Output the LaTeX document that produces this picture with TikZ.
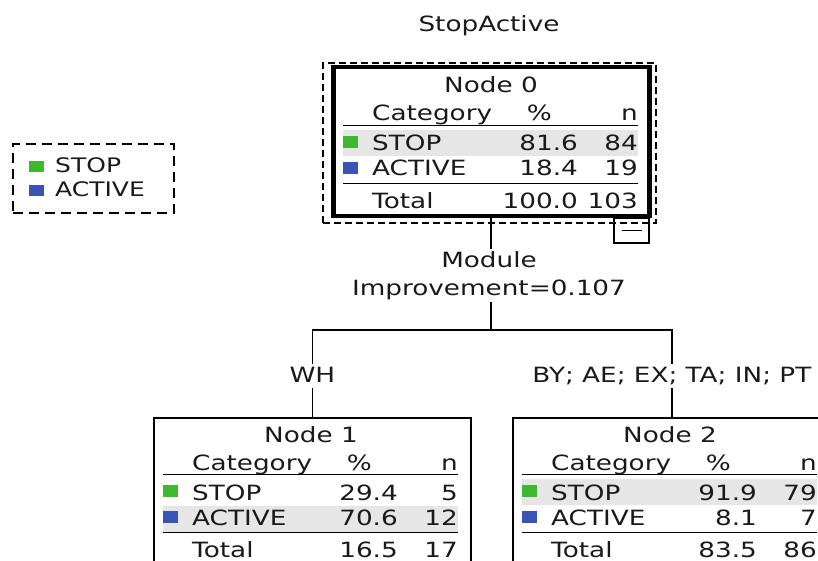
\documentclass[tikz,border=0pt]{standalone}
\usepackage{fontspec}
\setmainfont{DejaVu Sans}[FakeStretch=1.25]
\definecolor{stopgreen}{RGB}{62,184,48}
\definecolor{activeblue}{RGB}{58,84,182}
\definecolor{rowgray}{RGB}{230,230,230}
\definecolor{ink}{RGB}{25,25,25}

% Body of one classification-tree node: title, header, two category rows, total.
% #1 name prefix, #2/#3 STOP % and n, #4/#5 ACTIVE % and n, #6/#7 total % and n,
% #8 node title, #9 top of the highlighted row
\newcommand\cattable[9]{%
  \fill[rowgray] (10,#9) rectangle (305,{#9+26});
  \node[ttl] (#1-title) at (158,25) {#8};
  \node[txt] (#1-cat)  at (39,53)  {Category};
  \node[num] (#1-pc)   at (219,53) {\%};
  \node[num] (#1-n)    at (305,53) {n};
  \draw[rulel] (10,57.5) -- (305,57.5);
  \fill[stopgreen] (10,68) rectangle (25,80);
  \node[txt] (#1-stop)  at (39,83)  {STOP};
  \node[num] (#1-stopp) at (245,83) {#2};
  \node[num] (#1-stopn) at (305,83) {#3};
  \fill[activeblue] (10,94) rectangle (25,106);
  \node[txt] (#1-act)  at (39,108)  {ACTIVE};
  \node[num] (#1-actp) at (245,108) {#4};
  \node[num] (#1-actn) at (305,108) {#5};
  \draw[rulel] (10,115.5) -- (305,115.5);
  \node[txt] (#1-tot)  at (39,140)  {Total};
  \node[num] (#1-totp) at (245,140) {#6};
  \node[num] (#1-totn) at (305,140) {#7};
}

\begin{document}
\begin{tikzpicture}[x=1pt, y=-1pt,
  font=\fontsize{21}{28}\selectfont, text=ink,
  txt/.style={inner sep=0pt, anchor=base west},
  num/.style={inner sep=0pt, anchor=base east},
  ttl/.style={inner sep=0pt, anchor=base},
  rulel/.style={line width=1.7pt},
  conn/.style={line width=1.7pt},
  thinbox/.style={draw, line width=1.7pt, inner sep=0pt, anchor=north west},
  thickbox/.style={draw, line width=4.5pt, inner sep=0pt, anchor=north west},
  selbox/.style={draw, line width=1.8pt, dash pattern=on 7pt off 4pt, inner sep=0pt, anchor=north west},
  legbox/.style={draw, line width=1.8pt, dash pattern=on 10pt off 6pt, inner sep=0pt, anchor=north west},
  branch/.style={inner xsep=0pt, inner ysep=2pt, text height=16pt, text depth=4pt, anchor=base},
]
\useasboundingbox (0,0) rectangle (818,561);
\clip (0,0) rectangle (818,561);

% title
\node[ttl] (title) at (489,32) {StopActive};

% legend
\node[legbox, minimum width=161pt, minimum height=69pt] (legend) at (12,143) {};
\fill[stopgreen] (29,161) rectangle (44,172);
\node[txt, font=\fontsize{20}{24}\selectfont] (leg-stop) at (55,173) {STOP};
\fill[activeblue] (29,185) rectangle (44,196);
\node[txt, font=\fontsize{20}{24}\selectfont] (leg-act) at (55,197) {ACTIVE};

% root node (selected)
\node[selbox, minimum width=333pt, minimum height=160pt] (sel) at (322,62) {};
\node[thickbox, minimum width=316pt, minimum height=149pt] (n0) at (331,65) {};
\begin{scope}[shift={(333,68)}]
  \cattable{n0}{81.6}{84}{18.4}{19}{100.0}{103}{Node 0}{62}
\end{scope}
\node[draw, line width=1.7pt, minimum width=35pt, minimum height=25pt, inner sep=0pt] (toggle) at (631.5,230.5) {};
\draw[line width=1.7pt] ([xshift=-10pt]toggle.center) -- ([xshift=10pt]toggle.center);

% split label
\node[align=center, inner sep=2pt] (split) at (489,275.5) {Module\\Improvement=0.107};

% child nodes
\node[thinbox, minimum width=317pt, minimum height=160pt] (n1) at (153,417) {};
\begin{scope}[shift={(153,417)}]
  \cattable{n1}{29.4}{5}{70.6}{12}{16.5}{17}{Node 1}{89}
\end{scope}
\node[thinbox, minimum width=318pt, minimum height=160pt] (n2) at (512,417) {};
\begin{scope}[shift={(512,417)}]
  \cattable{n2}{91.9}{79}{8.1}{7}{83.5}{86}{Node 2}{62}
\end{scope}

% branch labels
\node[branch] (wh) at (n1.north |- 0,382) {WH};
\node[branch] (by) at (n2.north |- 0,382) {BY; AE; EX; TA; IN; PT};

% connectors
\coordinate (hm) at (n0.south |- 0,330);
\coordinate (hl) at (n1.north |- 0,330);
\coordinate (hr) at (n2.north |- 0,330);
\draw[conn] (n0.south) -- (n0.south |- split.north);
\draw[conn] (n0.south |- split.south) -- (hm);
\draw[conn] (wh.north) -- (hl) -- (hr) -- (by.north);
\draw[conn] (wh.south) -- (n1.north);
\draw[conn] (by.south) -- (n2.north);
\end{tikzpicture}
\end{document}
